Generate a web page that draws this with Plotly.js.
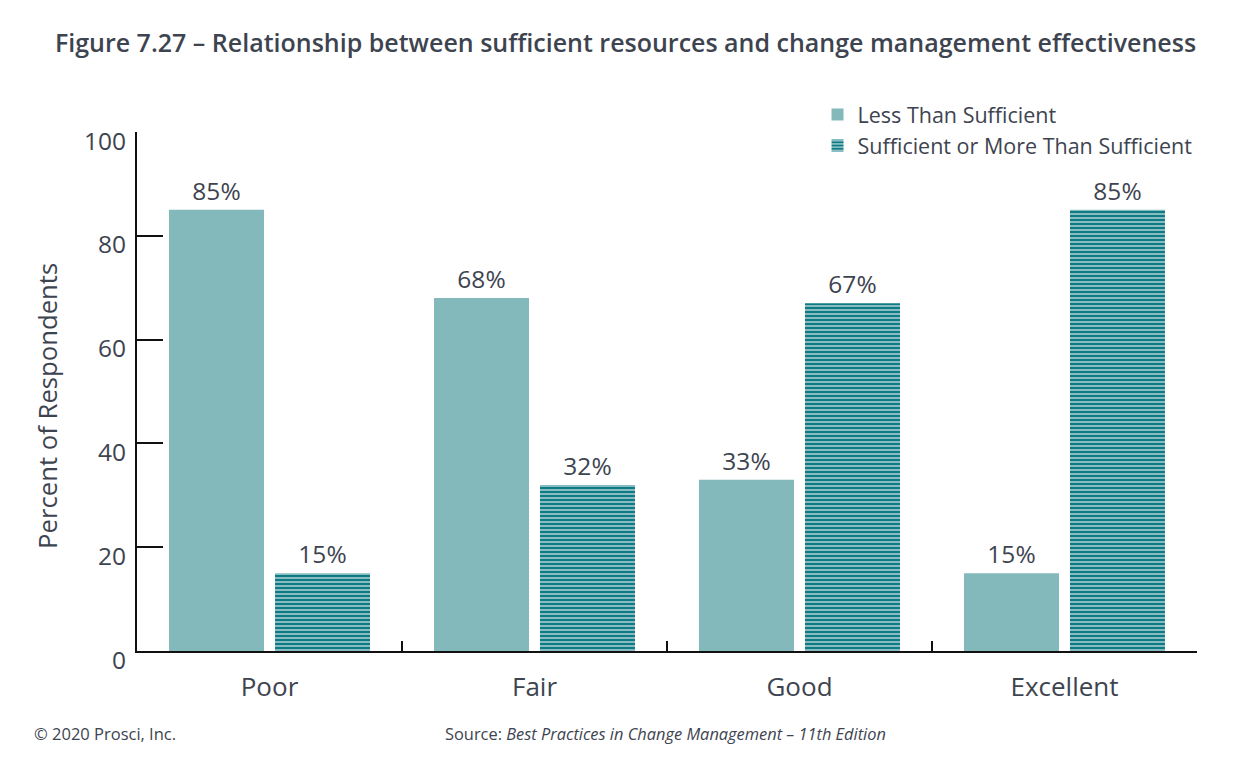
<!DOCTYPE html>
<html>
<head>
<meta charset="utf-8">
<script src="https://cdn.plot.ly/plotly-3.0.1.min.js"></script>
<style>html,body{margin:0;padding:0;background:#fff;}#chart{width:1251px;height:771px;}</style>
</head>
<body>
<div id="chart"></div>
<script>
const categories = ["Poor", "Fair", "Good", "Excellent"];
const lessThanSufficient = [85, 68, 33, 15];
const sufficientOrMore = [15, 32, 67, 85];
const seriesNames = ["Less Than Sufficient", "Sufficient or More Than Sufficient"];
const yTicks = [0, 20, 40, 60, 80, 100];

const txt = "#3d4450";
const font = "Open Sans, sans-serif";

const traces = [
  {
    type: "bar", name: seriesNames[0], x: categories, y: lessThanSufficient,
    marker: {color: "#84b9bb"},
    text: lessThanSufficient.map(v => v + "%"), textposition: "outside",
    textfont: {size: 24.5, color: txt, family: font}, cliponaxis: false,
    hoverinfo: "skip"
  },
  {
    type: "bar", name: seriesNames[1], x: categories, y: sufficientOrMore,
    marker: {color: "#0e7a84", pattern: {shape: "-", bgcolor: "#0e7a84", fgcolor: "#ffffff", size: 4, solidity: 0.25}},
    text: sufficientOrMore.map(v => v + "%"), textposition: "outside",
    textfont: {size: 24.5, color: txt, family: font}, cliponaxis: false,
    hoverinfo: "skip"
  }
];

const layout = {
  width: 1251, height: 771,
  margin: {l: 137, r: 54, t: 132, b: 120},
  paper_bgcolor: "#fff", plot_bgcolor: "#fff",
  font: {family: font, color: txt},
  barmode: "group", bargap: 0.2, bargroupgap: 0.104,
  title: {
    text: "Figure 7.27 – Relationship between sufficient resources and change management effectiveness",
    font: {size: 25, color: txt, family: font, weight: 600},
    x: 0.5, xanchor: "center", y: 0.944, yanchor: "middle"
  },
  showlegend: true,
  legend: {
    x: 0.642, xanchor: "left", y: 1.073, yanchor: "top",
    font: {size: 21.5, color: txt, family: font},
    bgcolor: "rgba(0,0,0,0)", itemwidth: 30, tracegroupgap: 0, traceorder: "normal"
  },
  xaxis: {
    type: "category", range: [-0.5, 3.5],
    showline: true, linecolor: "#111", linewidth: 2,
    ticks: "inside", tickson: "boundaries", ticklen: 10, tickwidth: 2, tickcolor: "#111",
    tickfont: {size: 26, color: txt, family: font}, ticklabelstandoff: 12,
    showgrid: false, zeroline: false, fixedrange: true
  },
  yaxis: {
    range: [0, 100], tickvals: yTicks, ticktext: yTicks.map(String),
    showline: true, linecolor: "#111", linewidth: 2,
    ticks: "inside", ticklen: 26, tickwidth: 2, tickcolor: "#111",
    tickfont: {size: 24.5, color: txt, family: font}, ticklabelstandoff: 4, ticklabelshift: 9,
    showgrid: false, zeroline: false, fixedrange: true
  },
  annotations: [
    {text: "Percent of Respondents", xref: "paper", yref: "paper", x: -0.085, xanchor: "center",
     y: 0.472, yanchor: "middle", textangle: -90, showarrow: false,
     font: {size: 25.7, color: txt, family: font}},
    {text: "© 2020 Prosci, Inc.", xref: "paper", yref: "paper", x: -0.099, xanchor: "left",
     y: -0.158, yanchor: "middle", showarrow: false, font: {size: 16.5, color: txt, family: font}},
    {text: "Source: <i>Best Practices in Change Management – 11th Edition</i>", xref: "paper", yref: "paper",
     x: 0.499, xanchor: "center", y: -0.158, yanchor: "middle", showarrow: false,
     font: {size: 16.4, color: txt, family: font}}
  ]
};

Plotly.newPlot("chart", traces, layout, {displayModeBar: false, staticPlot: true});
</script>
</body>
</html>
